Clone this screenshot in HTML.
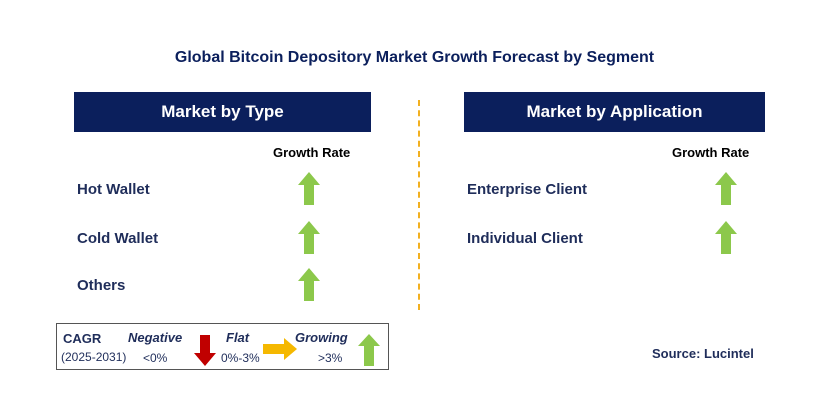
<!DOCTYPE html>
<html><head><meta charset="utf-8"><style>
body{margin:0;width:829px;height:417px;background:#fff;position:relative;font-family:"Liberation Sans",Calibri,sans-serif;overflow:hidden}
.a{position:absolute}
.t{color:#1f2d5a;font-weight:bold;font-size:15px}
.hdr{background:#0b1f5c;color:#fff;font-weight:bold;font-size:17px;text-align:center;line-height:40px;height:40px}
.gr{font-weight:bold;font-size:13px;color:#000}
</style></head><body>
<div class="a t" style="left:0;width:829px;top:49px;text-align:center;font-size:16px;color:#0b1f5c">Global Bitcoin Depository Market Growth Forecast by Segment</div>
<div class="a hdr" style="left:74px;top:92px;width:297px">Market by Type</div>
<div class="a hdr" style="left:464px;top:92px;width:301px">Market by Application</div>
<div class="a" style="left:418px;top:100px;height:210px;border-left:2px dashed #f2b020"></div>
<div class="a gr" style="left:273px;top:145px">Growth Rate</div>
<div class="a gr" style="left:672px;top:145px">Growth Rate</div>
<div id="rows"></div>
<div class="a" style="left:56px;top:323px;width:333px;height:47px;border:1px solid #555;box-sizing:border-box"></div>
<div class="a t" style="left:63px;top:331px;font-size:13px">CAGR</div>
<div class="a" style="left:61px;top:350px;font-size:12px;color:#1f2d5a">(2025-2031)</div>
<div class="a" style="left:128px;top:330px;font-size:13px;font-weight:bold;font-style:italic;color:#1f2d5a">Negative</div>
<div class="a" style="left:143px;top:351px;font-size:12px;color:#1f2d5a">&lt;0%</div>
<svg class="a" style="left:193px;top:335px" width="24" height="32"><polygon points="7,0 17,0 17,18 23,18 12,31 1,18 7,18" fill="#c00000"/></svg>
<div class="a" style="left:226px;top:330px;font-size:13px;font-weight:bold;font-style:italic;color:#1f2d5a">Flat</div>
<div class="a" style="left:221px;top:351px;font-size:12px;color:#1f2d5a">0%-3%</div>
<svg class="a" style="left:263px;top:338px" width="35" height="24"><polygon points="0,6 21,6 21,0 34,11 21,22 21,16 0,16" fill="#f5b800"/></svg>
<div class="a" style="left:295px;top:330px;font-size:13px;font-weight:bold;font-style:italic;color:#1f2d5a">Growing</div>
<div class="a" style="left:318px;top:351px;font-size:12px;color:#1f2d5a">&gt;3%</div>
<svg class="a" style="left:357px;top:334px" width="24" height="33"><polygon points="12,0 23,12 17,12 17,32 7,32 7,12 1,12" fill="#8cc84b"/></svg>
<div class="a t" style="left:652px;top:346px;font-size:13px">Source: Lucintel</div>
<script>
const typeCats=["Hot Wallet","Cold Wallet","Others"];
const appCats=["Enterprise Client","Individual Client"];
const rowTops=[172,221,268];
const c=document.getElementById('rows');
function add(cats,lx,ax,prefix){cats.forEach((n,i)=>{
const d=document.createElement('div');d.className='a t';d.style.left=lx+'px';d.style.top=(rowTops[i]+9)+'px';d.textContent=n;


c.appendChild(d);
const s=document.createElementNS('http://www.w3.org/2000/svg','svg');s.setAttribute('class','a');s.style.left=ax+'px';s.style.top=rowTops[i]+'px';s.setAttribute('width','24');s.setAttribute('height','34');
s.innerHTML='<polygon points="12,0 23,13 17,13 17,33 7,33 7,13 1,13" fill="#8cc84b"/>';


c.appendChild(s);});}
add(typeCats,77,297,'type');
add(appCats,467,714,'app');
</script>
</body></html>
